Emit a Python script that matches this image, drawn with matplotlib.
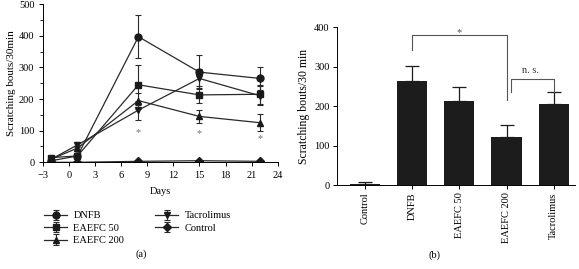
import matplotlib
matplotlib.use("Agg")
import matplotlib.pyplot as plt
from matplotlib.ticker import MultipleLocator

plt.rcParams['font.family'] = ['Liberation Serif', 'DejaVu Serif']

days = [-2, 1, 8, 15, 22]
series_names = ["DNFB", "EAEFC 50", "EAEFC 200", "Tacrolimus", "Control"]
dnfb = [5, 20, 397, 285, 265]
dnfb_err = [5, 8, 68, 53, 37]
eaefc50 = [15, 20, 245, 213, 215]
eaefc50_err = [5, 8, 63, 27, 30]
eaefc200 = [10, 45, 195, 145, 125]
eaefc200_err = [5, 8, 25, 20, 27]
tacro = [10, 55, 165, 265, 210]
tacro_err = [5, 8, 30, 30, 30]
control = [0, 0, 3, 5, 3]
control_err = [1, 1, 2, 2, 2]
markers = ["o", "s", "^", "v", "D"]
star_days = [8, 15, 22]
star_y = [95, 90, 75]

bar_cats = ["Control", "DNFB", "EAEFC 50", "EAEFC 200", "Tacrolimus"]
bar_vals = [3, 263, 213, 123, 205]
bar_err = [5, 40, 36, 30, 32]

fig = plt.figure(figsize=(5.79, 2.69), dpi=100)

# Panel (a)
ax1 = fig.add_axes([0.0737, 0.3967, 0.406, 0.588])
all_vals = [dnfb, eaefc50, eaefc200, tacro, control]
all_err = [dnfb_err, eaefc50_err, eaefc200_err, tacro_err, control_err]
msizes = [5, 5, 5, 5, 4]
handles = []
for name, v, e, m, ms in zip(series_names, all_vals, all_err, markers, msizes):
    h = ax1.errorbar(days, v, yerr=e, marker=m, color="#2a2a2a", ms=ms, lw=0.9,
                     elinewidth=0.8, capsize=2.5, capthick=0.8, label=name,
                     mfc="#1a1a1a", mec="#1a1a1a")
    handles.append(h)
for d, y in zip(star_days, star_y):
    ax1.text(d, y, "*", ha="center", va="center", fontsize=7.5, color="#777777")
ax1.set_xlim(-3, 24)
ax1.set_ylim(0, 500)
ax1.set_xticks(range(-3, 25, 3))
ax1.set_xticklabels(["\u22123" if t == -3 else str(t) for t in range(-3, 25, 3)])
ax1.yaxis.set_minor_locator(MultipleLocator(50))
ax1.spines["top"].set_visible(False)
ax1.spines["right"].set_visible(False)
ax1.tick_params(labelsize=7.5, length=3, width=0.7, pad=3)
ax1.tick_params(which="minor", length=2, width=0.6)
ax1.set_xlabel("Days", fontsize=7.5, labelpad=5)
ax1.set_ylabel("Scratching bouts/30min", fontsize=8, labelpad=2)
for s in ax1.spines.values():
    s.set_linewidth(0.7)

fig.legend(handles=handles, labels=series_names, ncol=2, loc="upper left",
           bbox_to_anchor=(0.06, 0.25), frameon=False, fontsize=7.5,
           handlelength=2.2, handletextpad=0.6, columnspacing=3.0,
           labelspacing=0.3)
fig.text(0.243, 0.055, "(a)", ha="center", va="center", fontsize=7.5)

# Panel (b)
ax2 = fig.add_axes([0.5815, 0.311, 0.4116, 0.5874])
xpos = list(range(len(bar_cats)))
ax2.bar(xpos, bar_vals, width=0.64, color="#1c1c1c")
ax2.errorbar(xpos, bar_vals, yerr=[[0] * len(bar_err), bar_err], fmt="none",
             ecolor="#1c1c1c", elinewidth=0.9, capsize=5, capthick=0.9)
ax2.set_xlim(-0.6, 4.45)
ax2.set_ylim(0, 400)
ax2.set_yticks([0, 100, 200, 300, 400])
ax2.set_xticks(xpos)
ax2.set_xticklabels(bar_cats, rotation=90)
ax2.spines["top"].set_visible(False)
ax2.spines["right"].set_visible(False)
for s in ax2.spines.values():
    s.set_linewidth(0.7)
ax2.tick_params(labelsize=7.5, length=3, width=0.7, pad=2)
ax2.set_ylabel("Scratching bouts/30 min", fontsize=8.5, labelpad=3)
# significance brackets
bc = "#555555"
ax2.plot([1, 1, 3, 3], [342, 380, 380, 216], color=bc, lw=0.8, clip_on=False)
ax2.text(2, 386, "*", ha="center", va="center", fontsize=7.5, color=bc)
ax2.plot([3.1, 3.1, 4, 4], [237, 269, 269, 237], color=bc, lw=0.8, clip_on=False)
ax2.text(3.5, 290, "n. s.", ha="center", va="center", fontsize=7.5, color="#333333")
fig.text(0.75, 0.052, "(b)", ha="center", va="center", fontsize=7.5)

fig.savefig("out.png", dpi=100)
